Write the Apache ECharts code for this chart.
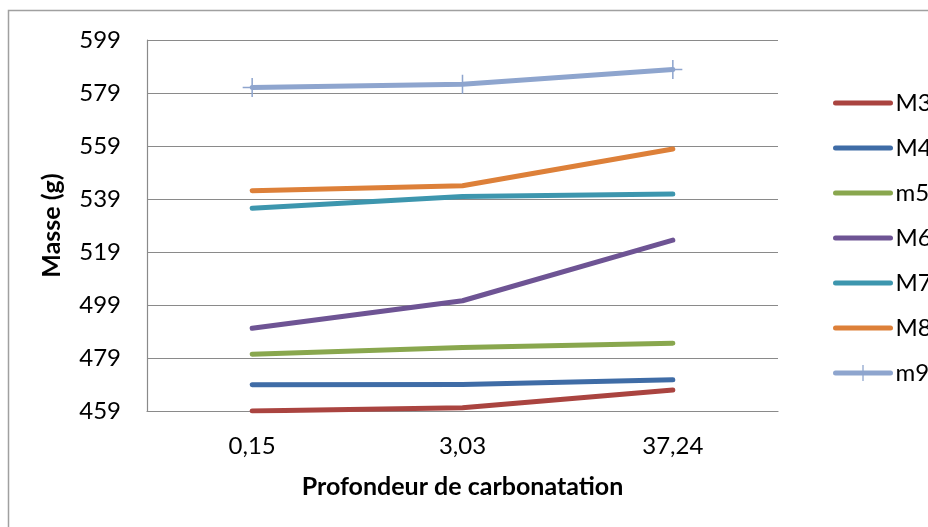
<!DOCTYPE html>
<html>
<head>
<meta charset="utf-8">
<script src="https://cdn.jsdelivr.net/npm/echarts@6/dist/echarts.min.js"></script>
<style>
  html, body { margin: 0; padding: 0; background: #fff; }
  #chart { width: 928px; height: 527px; }
</style>
</head>
<body>
<div id="chart"></div>
<script>
// Carbonation depth categories (x axis)
const depths = ['0,15', '3,03', '37,24'];

// Mass (g) of each specimen at each carbonation depth
const M3 = [459.0, 460.2, 466.9];
const M4 = [468.9, 469.0, 470.8];
const m5 = [480.4, 483.0, 484.6];
const M6 = [490.2, 500.6, 523.5];
const M7 = [535.5, 539.9, 540.9];
const M8 = [542.1, 544.0, 557.9];
const m9 = [581.1, 582.3, 587.9];

// Mass axis bounds and step
const massMin = 459;
const massMax = 599;
const massStep = 20;

const seriesNames = ['M3', 'M4', 'm5', 'M6', 'M7', 'M8', 'm9'];
const seriesData = [M3, M4, m5, M6, M7, M8, m9];
const seriesColors = ['#AA4440', '#3F6CA6', '#89A74E', '#6E5494', '#3D96AE', '#DD8039', '#8EA5CE'];

const FONT = 'Lato, "Open Sans", sans-serif';
const plusPath = 'path://M0,9.2h20v1.6h-20zM9.2,0h1.6v20h-1.6z';

const series = seriesNames.map((name, i) => {
  const withMarker = name === 'm9';
  return {
    name: name,
    type: 'line',
    data: seriesData[i],
    color: seriesColors[i],
    symbol: withMarker ? plusPath : 'none',
    symbolSize: 19,
    showSymbol: withMarker,
    itemStyle: { color: seriesColors[i] },
    lineStyle: { width: 5, color: seriesColors[i], cap: 'round', join: 'round' },
    emphasis: { disabled: true },
    animation: false,
    z: 2 + i
  };
});

const chart = echarts.init(document.getElementById('chart'), null, { renderer: 'canvas' });
chart.setOption({
  backgroundColor: '#ffffff',
  animation: false,
  textStyle: { fontFamily: FONT },
  graphic: [{
    type: 'rect',
    shape: { x: 8.5, y: 10.5, width: 1200, height: 1200 },
    style: { fill: 'none', stroke: '#a0a0a0', lineWidth: 1.5 },
    silent: true,
    z: -10
  }],
  grid: { left: 147, right: 150, top: 40, bottom: 116, containLabel: false },
  legend: {
    orient: 'vertical',
    left: 833,
    top: 91,
    padding: 0,
    itemWidth: 55,
    itemHeight: 20,
    itemGap: 21,
    selectedMode: false,
    lineStyle: { width: 5, cap: 'round' },
    textStyle: { fontFamily: FONT, fontSize: 24, lineHeight: 20, color: '#000' },
    data: seriesNames.map(n => n === 'm9'
      ? { name: n }
      : { name: n, itemStyle: { opacity: 0 } })
  },
  xAxis: {
    type: 'category',
    data: depths,
    boundaryGap: true,
    name: 'Profondeur de carbonatation',
    nameLocation: 'middle',
    nameGap: 63,
    nameTextStyle: { fontFamily: FONT, fontSize: 25, fontWeight: 'bold', color: '#000' },
    axisLine: { show: true, lineStyle: { color: '#8a8a8a', width: 1.2 } },
    axisTick: { show: false },
    axisLabel: { fontFamily: FONT, fontSize: 24, color: '#000', margin: 23 },
    splitLine: { show: false }
  },
  yAxis: {
    type: 'value',
    min: massMin,
    max: massMax,
    interval: massStep,
    name: 'Masse (g)',
    nameLocation: 'middle',
    nameGap: 83,
    nameRotate: 90,
    nameTextStyle: { fontFamily: FONT, fontSize: 25, fontWeight: 'bold', color: '#000' },
    axisLine: { show: true, lineStyle: { color: '#8a8a8a', width: 1.2 } },
    axisTick: { show: false },
    axisLabel: { fontFamily: FONT, fontSize: 24, color: '#000', margin: 26 },
    splitLine: { show: true, lineStyle: { color: '#8a8a8a', width: 1.2 } }
  },
  series: series
});
</script>
</body>
</html>
